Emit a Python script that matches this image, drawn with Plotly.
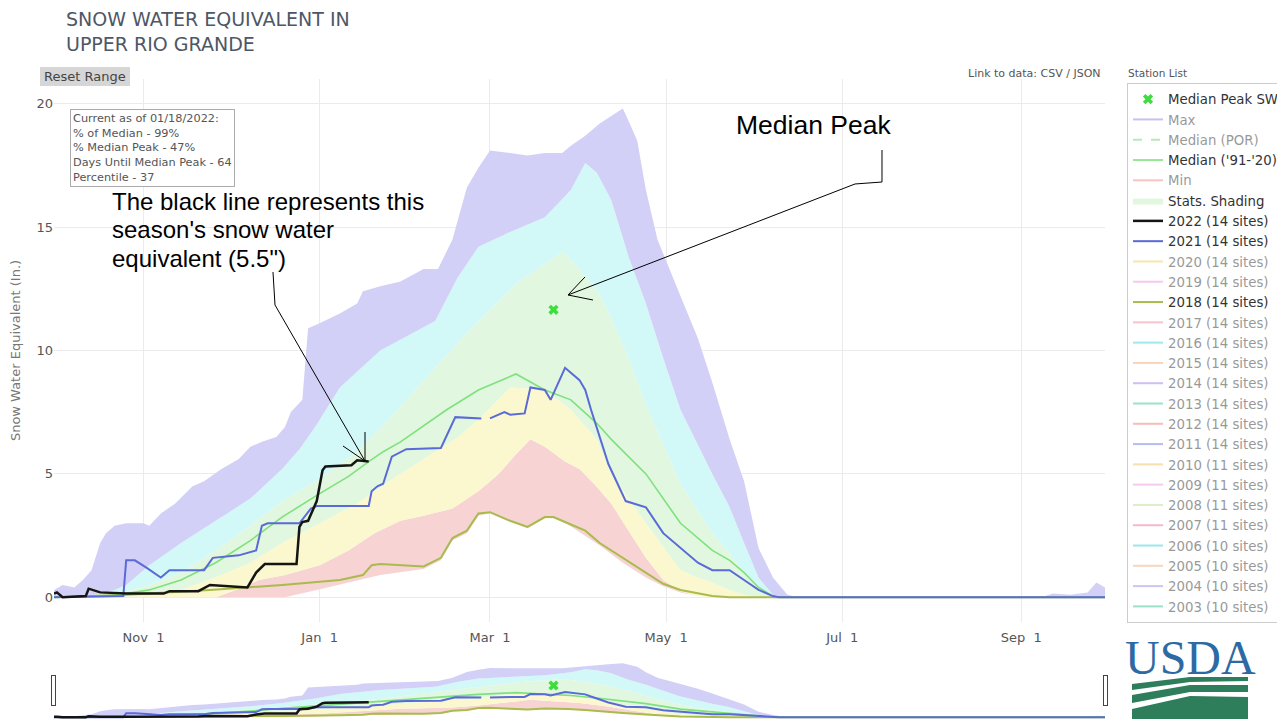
import plotly.graph_objects as go

# ---------------- data ----------------
max_dates = ["2021-10-01","2021-10-04","2021-10-08","2021-10-11","2021-10-14","2021-10-17","2021-10-19","2021-10-22","2021-10-26","2021-11-01","2021-11-03","2021-11-07","2021-11-12","2021-11-18","2021-11-22","2021-11-28","2021-12-04","2021-12-08","2021-12-12","2021-12-17","2021-12-20","2021-12-22","2021-12-26","2021-12-28","2022-01-01","2022-01-08","2022-01-14","2022-01-16","2022-01-22","2022-01-29","2022-02-06","2022-02-11","2022-02-16","2022-02-21","2022-02-25","2022-03-01","2022-03-08","2022-03-14","2022-03-20","2022-03-26","2022-03-29","2022-04-03","2022-04-08","2022-04-12","2022-04-16","2022-04-18","2022-04-21","2022-04-24","2022-04-28","2022-05-06","2022-05-12","2022-05-17","2022-05-23","2022-05-28","2022-06-02","2022-06-07","2022-06-12","2022-06-16","2022-09-08","2022-09-12","2022-09-18","2022-09-24","2022-09-27","2022-09-30"]
max_vals = [0.3,0.5,0.4,0.7,1.1,2.2,2.6,2.9,3.0,3.0,2.9,3.4,3.8,4.5,4.7,5.2,5.6,6.1,6.3,6.5,6.9,7.5,8.0,10.9,11.1,11.5,11.9,12.4,12.6,12.8,13.3,13.3,14.5,16.6,17.4,18.1,18.0,17.9,18.0,18.0,18.3,18.7,19.2,19.5,19.8,19.3,18.5,16.5,14.5,12.2,10.5,8.7,6.4,4.7,2.0,0.8,0.1,0.0,0.0,0.15,0.1,0.2,0.6,0.4]

p90_dates = ["2021-10-01","2021-10-15","2021-10-22","2021-10-26","2021-11-03","2021-11-14","2021-11-26","2021-12-08","2021-12-19","2021-12-25","2021-12-31","2022-01-08","2022-01-22","2022-02-10","2022-02-18","2022-02-25","2022-03-08","2022-03-20","2022-03-29","2022-04-03","2022-04-07","2022-04-12","2022-04-18","2022-04-24","2022-04-30","2022-05-06","2022-05-17","2022-05-23","2022-05-28","2022-06-02","2022-06-07","2022-06-10","2022-09-30"]
p90_vals = [0.05,0.1,0.3,0.5,1.3,2.2,3.1,4.0,5.2,6.0,7.0,8.5,10.0,11.2,13.0,14.2,14.8,15.4,16.5,17.6,17.2,16.1,13.8,11.9,9.7,7.6,5.0,3.65,2.2,0.8,0.1,0.0,0.0]

p70_dates = ["2021-10-01","2021-10-22","2021-11-03","2021-11-14","2021-11-26","2021-12-08","2021-12-19","2022-01-01","2022-01-14","2022-01-25","2022-02-10","2022-02-21","2022-03-04","2022-03-11","2022-03-20","2022-03-26","2022-03-29","2022-04-03","2022-04-08","2022-04-12","2022-04-18","2022-04-24","2022-04-30","2022-05-06","2022-05-12","2022-05-17","2022-05-23","2022-05-28","2022-06-02","2022-06-07","2022-09-30"]
p70_vals = [0.0,0.1,0.5,1.0,1.9,2.9,3.9,4.8,5.9,7.2,9.3,10.7,12.0,12.8,13.5,14.0,13.7,13.0,12.3,11.3,9.7,7.8,6.2,4.6,3.5,2.6,1.8,1.0,0.4,0.0,0.0]

p30_dates = ["2021-10-01","2021-11-03","2021-11-14","2021-11-26","2021-12-08","2021-12-19","2022-01-01","2022-01-14","2022-01-25","2022-02-06","2022-02-18","2022-02-25","2022-03-08","2022-03-20","2022-03-29","2022-04-07","2022-04-12","2022-04-24","2022-05-06","2022-05-12","2022-05-17","2022-05-23","2022-05-28","2022-06-02","2022-09-30"]
p30_vals = [0.0,0.05,0.3,0.8,1.4,2.2,3.0,3.8,4.7,5.6,6.5,7.2,8.5,8.4,7.6,6.4,5.0,3.0,1.1,0.8,0.6,0.3,0.1,0.0,0.0]

p10_dates = ["2021-10-01","2021-11-26","2021-12-03","2021-12-11","2021-12-20","2022-01-01","2022-01-11","2022-01-20","2022-01-29","2022-02-06","2022-02-16","2022-02-25","2022-03-04","2022-03-10","2022-03-15","2022-03-20","2022-03-27","2022-04-01","2022-04-06","2022-04-12","2022-04-18","2022-04-24","2022-04-30","2022-05-06","2022-05-12","2022-05-17","2022-09-30"]
p10_vals = [0.0,0.0,0.3,0.7,0.9,1.3,1.9,2.6,3.1,3.3,3.6,4.3,5.0,5.8,6.4,6.1,5.5,5.2,4.6,3.8,2.7,1.6,0.7,0.25,0.05,0.0,0.0]

min_dates = ["2021-10-01","2021-12-20","2021-12-31","2022-01-11","2022-01-22","2022-02-06","2022-02-12","2022-02-16","2022-02-21","2022-02-25","2022-03-01","2022-03-08","2022-03-14","2022-03-20","2022-03-23","2022-03-28","2022-04-03","2022-04-08","2022-04-16","2022-04-24","2022-04-30","2022-05-06","2022-05-12","2022-05-17","2022-09-30"]
min_vals = [0.0,0.0,0.3,0.6,0.9,1.15,1.5,2.3,2.6,3.3,3.4,3.05,2.8,3.2,3.2,2.95,2.5,2.1,1.4,0.8,0.45,0.2,0.05,0.0,0.0]

median_dates = ["2021-10-01","2021-10-20","2021-10-26","2021-11-03","2021-11-14","2021-11-26","2021-12-08","2021-12-19","2022-01-01","2022-01-11","2022-01-18","2022-01-23","2022-01-29","2022-02-14","2022-02-25","2022-03-10","2022-03-20","2022-03-29","2022-04-07","2022-04-12","2022-04-24","2022-05-06","2022-05-17","2022-05-23","2022-05-28","2022-06-02","2022-06-07","2022-06-09","2022-09-30"]
median_vals = [0.0,0.05,0.15,0.3,0.7,1.4,2.3,3.25,4.2,4.9,5.5,5.9,6.3,7.6,8.4,9.05,8.4,8.0,7.05,6.4,5.0,3.0,1.9,1.5,1.0,0.4,0.05,0.0,0.0]

y2018_dates = ["2021-10-01","2021-10-26","2021-11-24","2021-12-19","2022-01-08","2022-01-16","2022-01-19","2022-01-22","2022-02-06","2022-02-12","2022-02-16","2022-02-21","2022-02-25","2022-03-01","2022-03-08","2022-03-14","2022-03-20","2022-03-23","2022-03-28","2022-04-03","2022-04-08","2022-04-16","2022-04-24","2022-04-30","2022-05-06","2022-05-12","2022-05-17","2022-05-23","2022-09-30"]
y2018_vals = [0.0,0.1,0.3,0.5,0.7,0.9,1.3,1.35,1.25,1.6,2.4,2.7,3.4,3.45,3.1,2.85,3.25,3.25,3.0,2.7,2.2,1.6,1.0,0.55,0.3,0.15,0.05,0.0,0.0]

y2021_dates = ["2021-10-01","2021-10-25","2021-10-26","2021-10-29","2021-11-02","2021-11-07","2021-11-10","2021-11-22","2021-11-25","2021-12-04","2021-12-10","2021-12-12","2021-12-14","2021-12-25","2021-12-29","2021-12-31","2022-01-18","2022-01-19","2022-01-21","2022-01-23","2022-01-26","2022-01-31","2022-02-12","2022-02-13","2022-02-17","2022-02-26","2022-02-28","2022-03-01","2022-03-06","2022-03-08","2022-03-13","2022-03-15","2022-03-20","2022-03-22","2022-03-27","2022-04-01","2022-04-03","2022-04-05","2022-04-11","2022-04-17","2022-04-24","2022-04-30","2022-05-06","2022-05-12","2022-05-17","2022-05-23","2022-05-28","2022-06-02","2022-06-07","2022-06-09","2022-09-30"]
y2021_vals = [0.0,0.05,1.5,1.5,1.2,0.8,1.1,1.1,1.6,1.7,1.9,2.9,3.0,3.0,3.6,3.7,3.7,4.3,4.5,4.6,5.7,6.0,6.05,6.3,7.3,7.25,None,7.25,7.5,7.4,7.45,8.5,8.4,8.0,9.3,8.8,8.4,7.6,5.4,3.9,3.65,2.6,2.0,1.4,1.1,1.1,0.7,0.3,0.05,0.0,0.0]

y2022_dates = ["2021-10-01","2021-10-02","2021-10-04","2021-10-12","2021-10-13","2021-10-17","2021-10-26","2021-11-08","2021-11-10","2021-11-20","2021-11-24","2021-12-07","2021-12-10","2021-12-13","2021-12-24","2021-12-25","2021-12-26","2021-12-28","2021-12-31","2022-01-02","2022-01-03","2022-01-12","2022-01-14","2022-01-18"]
y2022_vals = [0.15,0.2,0.0,0.05,0.35,0.2,0.15,0.15,0.25,0.25,0.5,0.4,1.0,1.35,1.35,2.85,3.05,3.1,3.9,5.15,5.3,5.35,5.55,5.5]

peak_date = ["2022-03-23"]
peak_val = [11.65]

hidden_years = ["2020","2019","2017","2016","2015","2014","2013","2012","2011","2010","2009","2008","2007","2006","2005","2004","2003"]
hidden_sites = [14,14,14,14,14,14,14,14,14,11,11,11,11,10,10,10,10]
hidden_colors = ["#f5cf5f","#ee95dc","#ef8aa0","#3fd6d6","#f5ab72","#9f80e6","#35c996","#ef7f70","#6c7ddc","#f4c164","#f097e4","#bcdc95","#e9789a","#35d3dc","#f4ad7c","#9f88e4","#39c496"]

tick_dates = ["2021-11-01","2022-01-01","2022-03-01","2022-05-01","2022-07-01","2022-09-01"]
y_ticks = [0, 5, 10, 15, 20]

# ---------------- geometry helpers (page pixels -> paper units) ----------------
OFF = 8                      # the page body margin
FW, FH = 1285 - OFF, 723 - OFF
P_LEFT, P_RIGHT, P_TOP, P_BOTTOM = 54, 1105, 79, 622   # plot area in page pixels
ML, MR = P_LEFT - OFF, FW - (P_RIGHT - OFF)
MT, MB = P_TOP - OFF, FH - (P_BOTTOM - OFF)
PW, PH = P_RIGHT - P_LEFT, P_BOTTOM - P_TOP


def px(x):
    return (x - P_LEFT) / PW


def py(y):
    return (P_BOTTOM - y) / PH


def path(points, close=False):
    s = "M" + " L".join(f"{px(x):.5f},{py(y):.5f}" for x, y in points)
    return s + (" Z" if close else "")


BASE_FONT = "DejaVu Sans"
fig = go.Figure()

# stats shading bands (min -> p10 -> p30 -> p70 -> p90 -> max)
band_defs = [
    (min_dates, min_vals, None, None),
    (p10_dates, p10_vals, "tonexty", "#f7d3d3"),
    (p30_dates, p30_vals, "tonexty", "#fbf8cf"),
    (p70_dates, p70_vals, "tonexty", "#e2f7df"),
    (p90_dates, p90_vals, "tonexty", "#d2f8f8"),
    (max_dates, max_vals, "tonexty", "#d2d0f6"),
]
for i, (d, v, fill, fc) in enumerate(band_defs):
    kw = dict(x=d, y=v, mode="lines", line=dict(width=0, color=fc or "rgba(0,0,0,0)"),
              hoverinfo="skip", showlegend=False)
    if fill:
        kw.update(fill=fill, fillcolor=fc)
    if i == 3:
        kw.update(showlegend=True, name="Stats. Shading", legendrank=6)
    fig.add_trace(go.Scatter(**kw))

fig.add_trace(go.Scatter(x=y2018_dates, y=y2018_vals, mode="lines", name="2018 (14 sites)",
                         line=dict(color="#a9bb4c", width=2), legendrank=11))
fig.add_trace(go.Scatter(x=median_dates, y=median_vals, mode="lines", name="Median ('91-'20)",
                         line=dict(color="#7de27d", width=1.6), legendrank=4))
fig.add_trace(go.Scatter(x=y2021_dates, y=y2021_vals, mode="lines", name="2021 (14 sites)",
                         line=dict(color="#5a6ad6", width=2), connectgaps=False, legendrank=8))
fig.add_trace(go.Scatter(x=y2022_dates, y=y2022_vals, mode="lines", name="2022 (14 sites)",
                         line=dict(color="#151515", width=2.5), legendrank=7))
fig.add_trace(go.Scatter(x=peak_date, y=peak_val, mode="markers", name="Median Peak SWE",
                         marker=dict(symbol="x", size=9, color="#3fdc3f"), legendrank=1))

# legend-only entries (series hidden in the reference)
fig.add_trace(go.Scatter(x=max_dates, y=max_vals, mode="lines", name="Max", visible="legendonly",
                         line=dict(color="#8f87e0", width=2), legendrank=2))
fig.add_trace(go.Scatter(x=[None], y=[None], mode="lines", name="Median (POR)", visible="legendonly",
                         line=dict(color="#6fd86f", width=2, dash="dash"), legendrank=3))
fig.add_trace(go.Scatter(x=min_dates, y=min_vals, mode="lines", name="Min", visible="legendonly",
                         line=dict(color="#f08a8a", width=2), legendrank=5))
rank = {"2020": 9, "2019": 10}
for k, (yr, ns, col) in enumerate(zip(hidden_years, hidden_sites, hidden_colors)):
    r = rank.get(yr, 12 + (k - 2))
    fig.add_trace(go.Scatter(x=[None], y=[None], mode="lines", name=f"{yr} ({ns} sites)",
                             visible="legendonly", line=dict(color=col, width=2), legendrank=r))

# ---------------- annotations ----------------
P = dict(xref="paper", yref="paper", showarrow=False)
ann = []
ann.append(dict(text="SNOW WATER EQUIVALENT IN<br>UPPER RIO GRANDE", x=px(64), y=py(31.5),
                xanchor="left", yanchor="middle", align="left",
                font=dict(family=BASE_FONT, size=19, color="#4d5766"), **P))
ann.append(dict(text="Current as of 01/18/2022:<br>% of Median - 99%<br>% Median Peak - 47%<br>"
                     "Days Until Median Peak - 64<br>Percentile - 37",
                x=px(70), y=py(109), xanchor="left", yanchor="top", align="left",
                bgcolor="white", bordercolor="#aaaaaa", borderwidth=1, borderpad=2,
                font=dict(family=BASE_FONT, size=11.3, color="#555"), **P))
ann.append(dict(text="Reset Range", x=px(85), y=py(76.5), xanchor="center", yanchor="middle",
                font=dict(family=BASE_FONT, size=13, color="#444"), **P))
ann.append(dict(text="Link to data: CSV / JSON", x=px(1103), y=py(73), xanchor="right",
                yanchor="middle", font=dict(family=BASE_FONT, size=11, color="#555"), **P))
ann.append(dict(text="Station List", x=px(1126), y=py(73), xanchor="left", yanchor="middle",
                font=dict(family=BASE_FONT, size=10.5, color="#555"), **P))
for line, yy in [("The black line represents this", 201), ("season's snow water", 230),
                 ("equivalent (5.5\")", 258)]:
    ann.append(dict(text=line, x=px(110), y=py(yy), xanchor="left", yanchor="middle",
                    font=dict(family="Liberation Sans", size=24, color="black"), **P))
ann.append(dict(text="Median Peak", x=px(734), y=py(125), xanchor="left", yanchor="middle",
                font=dict(family="Liberation Sans", size=26.5, color="black"), **P))
ann.append(dict(text="USDA", x=px(1190), y=py(657), xanchor="center", yanchor="middle",
                font=dict(family="Liberation Serif", size=48, color="#2d6aa3"), **P))

# ---------------- shapes ----------------
shapes = []
shapes.append(dict(type="rect", xref="paper", yref="paper", x0=px(40), x1=px(130), y0=py(86), y1=py(67),
                   fillcolor="#d6d6d6", line=dict(width=0), layer="below"))
ln = dict(color="black", width=1)
shapes.append(dict(type="path", xref="paper", yref="paper", line=ln,
                   path=path([(273, 272), (275, 305), (365, 461)])))
shapes.append(dict(type="path", xref="paper", yref="paper", line=ln,
                   path=path([(365, 432), (365, 461), (343, 446)])))
shapes.append(dict(type="path", xref="paper", yref="paper", line=ln,
                   path=path([(882, 150), (882, 182), (855, 184), (568, 295)])))
shapes.append(dict(type="path", xref="paper", yref="paper", line=ln,
                   path=path([(585, 277), (568, 295), (593, 300)])))
green = "#2e7d5b"
for pts in [
    [(1132, 684), (1190, 677), (1248, 677), (1248, 681), (1190, 682), (1132, 690)],
    [(1132, 695), (1190, 685), (1248, 685), (1248, 692), (1190, 692), (1132, 703)],
    [(1132, 709), (1190, 696), (1248, 697), (1248, 719), (1132, 719)],
]:
    shapes.append(dict(type="path", xref="paper", yref="paper", fillcolor=green,
                       line=dict(width=0), path=path(pts, close=True)))

fig.update_layout(
    width=FW, height=FH,
    margin=dict(l=ML, r=MR, t=MT, b=MB, autoexpand=False),
    paper_bgcolor="white", plot_bgcolor="white",
    font=dict(family=BASE_FONT, size=13, color="#555"),
    showlegend=True,
    legend=dict(x=px(1127), y=py(83), xanchor="left", yanchor="top", bgcolor="white",
                traceorder="normal",
                bordercolor="#cccccc", borderwidth=1, font=dict(family=BASE_FONT, size=13.3, color="#333")),
    annotations=ann, shapes=shapes,
    xaxis=dict(type="date", range=["2021-10-01", "2022-09-30"], tickvals=tick_dates, tickformat="%b %e",
               showgrid=True, gridcolor="#ebebeb", zeroline=False, showline=False,
               ticks="outside", ticklen=3, tickcolor="rgba(0,0,0,0)",
               tickfont=dict(size=13, color="#555"),
               rangeslider=dict(visible=True, thickness=0.11, bgcolor="white", borderwidth=0,
                                range=["2021-10-01", "2022-09-30"])),
    yaxis=dict(range=[-1, 21], tickvals=y_ticks, showgrid=True, gridcolor="#ebebeb", zeroline=False,
               showline=False, tickfont=dict(size=13, color="#555"),
               title=dict(text="Snow Water Equivalent (In.)", font=dict(size=13, color="#777"))),
)

fig.write_html("out.html")
